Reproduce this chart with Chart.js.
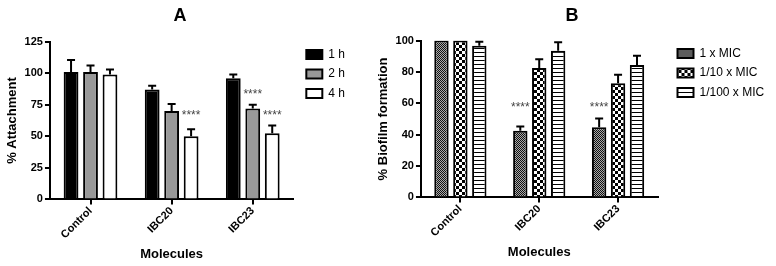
<!DOCTYPE html>
<html>
<head>
<meta charset="utf-8">
<script src="https://cdn.jsdelivr.net/npm/chart.js@4.4.0/dist/chart.umd.min.js"></script>
<style>
  body { margin: 0; background: #fff; width: 776px; height: 266px; overflow: hidden; position: relative; }
  #wrapA { position: absolute; left: 0; top: 0; width: 372px; height: 266px; }
  #wrapB { position: absolute; left: 372px; top: 0; width: 404px; height: 266px; }
</style>
</head>
<body>
<div id="wrapA"><canvas id="chartA"></canvas></div>
<div id="wrapB"><canvas id="chartB"></canvas></div>
<script>
// --- data ---
const categories = ['Control', 'IBC20', 'IBC23'];

// panel A : % attachment
const seriesA = ['1 h', '2 h', '4 h'];
const attach1h = [101, 87, 96];
const attach2h = [101, 70, 72];
const attach4h = [99, 50, 52.5];
const attach1hErr = [9.5, 3, 3];
const attach2hErr = [5, 5.5, 3];
const attach4hErr = [4, 5.5, 6];
const attachTicks = [0, 25, 50, 75, 100, 125];
// significance marks: [dataset, category, level]
const starsA = [[2, 1, 68], [1, 2, 84.5], [2, 2, 68]];

// panel B : % biofilm formation
const seriesB = ['1 x MIC', '1/10 x MIC', '1/100 x MIC'];
const biofilmMic1 = [100, 42.5, 44.7];
const biofilmMic10 = [100, 82.6, 72.8];
const biofilmMic100 = [96.7, 93.5, 84.5];
const biofilmMic1Err = [0, 2.7, 5.6];
const biofilmMic10Err = [0, 5.5, 5.5];
const biofilmMic100Err = [2.5, 5.5, 5.8];
const biofilmTicks = [0, 20, 40, 60, 80, 100];
const starsB = [[0, 1, 58.4], [0, 2, 58.4]];

const FONT = '"Liberation Sans", Arial, sans-serif';

// --- fill patterns for panel B ---
function makePattern(kind) {
    const c = document.createElement('canvas');
    const g = c.getContext('2d');
    if (kind === 'fine') {
        c.width = c.height = 2;
        g.fillStyle = '#aaa'; g.fillRect(0, 0, 2, 2);
        g.fillStyle = '#111'; g.fillRect(0, 0, 1, 1); g.fillRect(1, 1, 1, 1);
    } else if (kind === 'checker') {
        c.width = c.height = 6;
        g.fillStyle = '#fff'; g.fillRect(0, 0, 6, 6);
        g.fillStyle = '#000'; g.fillRect(0, 0, 3, 3); g.fillRect(3, 3, 3, 3);
    } else {
        c.width = c.height = 4;
        g.fillStyle = '#fff'; g.fillRect(0, 0, 4, 4);
        g.fillStyle = '#000'; g.fillRect(0, 0, 4, 1);
    }
    return g.createPattern(c, 'repeat');
}

// --- error bars + stars ---
const errorBars = {
    id: 'errorBars',
    afterDatasetsDraw(chart, args, opts) {
        const ctx = chart.ctx;
        const y = chart.scales.y;
        ctx.save();
        ctx.strokeStyle = '#000';
        ctx.lineWidth = 2;
        chart.data.datasets.forEach((ds, di) => {
            chart.getDatasetMeta(di).data.forEach((bar, i) => {
                const err = ds.errors[i];
                if (!err) return;
                const top = y.getPixelForValue(ds.data[i] + err);
                ctx.beginPath();
                ctx.moveTo(bar.x, bar.y);
                ctx.lineTo(bar.x, top);
                ctx.moveTo(bar.x - 4, top);
                ctx.lineTo(bar.x + 4, top);
                ctx.stroke();
            });
        });
        ctx.fillStyle = '#444';
        ctx.font = '12px ' + FONT;
        ctx.textAlign = 'center';
        ctx.textBaseline = 'alphabetic';
        (opts.stars || []).forEach(([di, i, level]) => {
            const bar = chart.getDatasetMeta(di).data[i];
            ctx.fillText('****', bar.x, y.getPixelForValue(level) + 5);
        });
        ctx.restore();
    }
};

// shifts the legend items away from the plot without moving the plot
const legendShift = {
    id: 'legendShift',
    beforeInit(chart, args, opts) {
        const legend = chart.legend;
        const fit = legend.fit;
        const draw = legend.draw;
        legend.fit = function () { fit.call(this); this.width += opts.dx; };
        legend.draw = function () {
            this.ctx.save();
            this.ctx.translate(opts.dx, opts.dy);
            draw.call(this);
            this.ctx.restore();
        };
    }
};

function makeChart(id, title, yTitle, labels, values, errors, fills, ticks, stars, pad, shift) {
    const datasets = labels.map((lab, k) => ({
        label: lab,
        data: values[k],
        errors: errors[k],
        backgroundColor: fills[k],
        borderColor: '#000',
        borderWidth: 2,
        borderSkipped: 'bottom',
        categoryPercentage: 0.72,
        barPercentage: 0.76
    }));
    return new Chart(document.getElementById(id), {
        type: 'bar',
        data: { labels: categories, datasets: datasets },
        plugins: [errorBars, legendShift],
        options: {
            responsive: true,
            maintainAspectRatio: false,
            animation: false,
            layout: { padding: pad },
            plugins: {
                title: {
                    display: true, text: title, color: '#000',
                    font: { family: FONT, size: 18, weight: 'bold' },
                    padding: { top: 5, bottom: pad.titleGap }
                },
                legend: {
                    position: 'right', align: 'start',
                    labels: {
                        color: '#000', boxWidth: 16, boxHeight: 9, padding: 7.5,
                        font: { family: FONT, size: 12 }
                    }
                },
                legendShift: shift,
                tooltip: { enabled: false },
                errorBars: { stars: stars }
            },
            scales: {
                x: {
                    grid: { display: true, drawOnChartArea: false, offset: false, color: '#000', lineWidth: 2, tickLength: 5 },
                    border: { color: '#000', width: 2 },
                    ticks: { color: '#000', maxRotation: 45, minRotation: 45, padding: 0,
                             font: { family: FONT, size: 11, weight: 'bold' } },
                    title: { display: true, text: 'Molecules', color: '#000', padding: { top: 5 },
                             font: { family: FONT, size: 13, weight: 'bold' } }
                },
                y: {
                    min: ticks[0], max: ticks[ticks.length - 1],
                    afterBuildTicks: axis => { axis.ticks = ticks.map(v => ({ value: v })); },
                    grid: { display: true, drawOnChartArea: false, color: '#000', lineWidth: 2, tickLength: 5 },
                    border: { color: '#000', width: 2 },
                    ticks: { color: '#000', padding: 2, font: { family: FONT, size: 11, weight: 'bold' } },
                    title: { display: true, text: yTitle, color: '#000', padding: { top: 0, bottom: 2 },
                             font: { family: FONT, size: 13, weight: 'bold' } }
                }
            }
        }
    });
}

makeChart('chartA', 'A', '% Attachment', seriesA,
    [attach1h, attach2h, attach4h],
    [attach1hErr, attach2hErr, attach4hErr],
    ['#000', '#999', '#fff'],
    attachTicks, starsA,
    { left: 5, right: 17, top: 0, bottom: 0, titleGap: 15 },
    { dx: 5.5, dy: 41 });

makeChart('chartB', 'B', '% Biofilm formation', seriesB,
    [biofilmMic1, biofilmMic10, biofilmMic100],
    [biofilmMic1Err, biofilmMic10Err, biofilmMic100Err],
    [makePattern('fine'), makePattern('checker'), makePattern('lines')],
    biofilmTicks, starsB,
    { left: 4, right: 8, top: 0, bottom: 2, titleGap: 14 },
    { dx: 12.5, dy: 40 });
</script>
</body>
</html>
